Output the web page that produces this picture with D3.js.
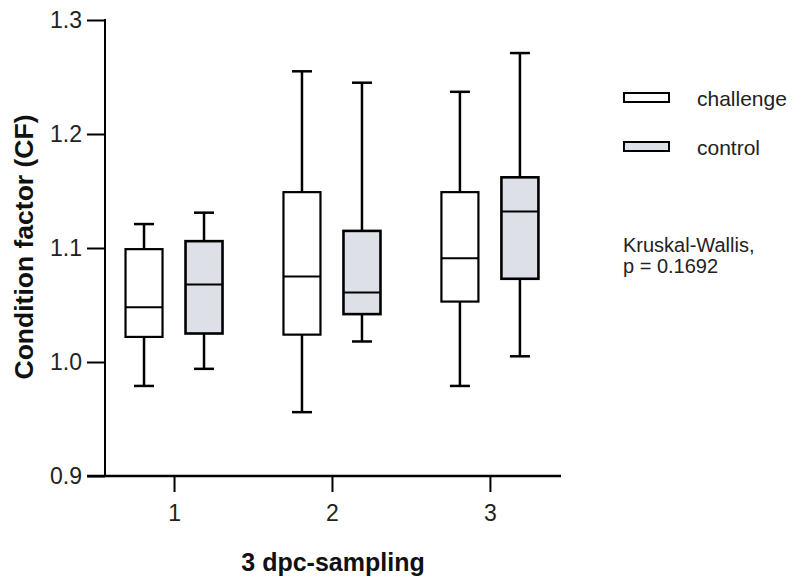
<!DOCTYPE html>
<html><head><meta charset="utf-8">
<script src="https://cdn.jsdelivr.net/npm/d3@7"></script>
<style>body{margin:0;background:#fff}svg{display:block}text{font-family:"Liberation Sans",Arial,sans-serif}</style>
</head><body><svg id="c" width="801" height="579"></svg>
<script>
const categories = [1, 2, 3];
const groups = ["challenge", "control"];
const groupFill = ["#ffffff", "#dde0e6"];
// [whiskerLow, q1, median, q3, whiskerHigh]
const challengeStats = [
  [0.979, 1.022, 1.048, 1.099, 1.121],
  [0.956, 1.024, 1.075, 1.149, 1.255],
  [0.979, 1.053, 1.091, 1.149, 1.237]
];
const controlStats = [
  [0.994, 1.025, 1.068, 1.106, 1.131],
  [1.018, 1.042, 1.061, 1.115, 1.245],
  [1.005, 1.073, 1.132, 1.162, 1.271]
];
const yTicks = [0.9, 1.0, 1.1, 1.2, 1.3];
const statText = ["Kruskal-Wallis,", "p = 0.1692"];

const svg = d3.select("#c");
const x = d3.scaleLinear().domain([0.563, 3.45]).range([105, 561]);
const y = d3.scaleLinear().domain([0.9, 1.3]).range([476, 20]);
const offsets = [-30, 30];
const boxW = 37, capW = 20;

// axes
const yAxis = d3.axisLeft(y).tickValues(yTicks).tickFormat(d3.format(".1f")).tickSize(18).tickPadding(5);
const gy = svg.append("g").attr("transform", "translate(105,0)").call(yAxis);
gy.select(".domain").attr("d", "M0,19V476").attr("stroke", "#000").attr("stroke-width", 2);
gy.selectAll(".tick line").attr("stroke", "#000").attr("stroke-width", 2);
gy.selectAll(".tick text").attr("font-size", 23).attr("fill", "#222");

const xAxis = d3.axisBottom(x).tickValues(categories).tickFormat(d3.format("d")).tickSize(16).tickPadding(13);
const gx = svg.append("g").attr("transform", "translate(0,476)").call(xAxis);
gx.select(".domain").attr("d", "M87,0H561").attr("stroke", "#000").attr("stroke-width", 2.5);
gx.selectAll(".tick line").attr("stroke", "#000").attr("stroke-width", 2);
gx.selectAll(".tick text").attr("font-size", 23).attr("fill", "#222");

// boxes
const allStats = [challengeStats, controlStats];
allStats.forEach((stats, gi) => {
  stats.forEach((s, ci) => {
    const cx = x(categories[ci]) + offsets[gi];
    const g = svg.append("g");
    const sw = gi === 1 ? 2.6 : 2.2;
    g.append("line").attr("x1", cx).attr("x2", cx).attr("y1", y(s[0])).attr("y2", y(s[1])).attr("stroke", "#000").attr("stroke-width", 2.5);
    g.append("line").attr("x1", cx).attr("x2", cx).attr("y1", y(s[3])).attr("y2", y(s[4])).attr("stroke", "#000").attr("stroke-width", 2.5);
    g.append("line").attr("x1", cx - capW / 2).attr("x2", cx + capW / 2).attr("y1", y(s[0])).attr("y2", y(s[0])).attr("stroke", "#000").attr("stroke-width", 2.5);
    g.append("line").attr("x1", cx - capW / 2).attr("x2", cx + capW / 2).attr("y1", y(s[4])).attr("y2", y(s[4])).attr("stroke", "#000").attr("stroke-width", 2.5);
    g.append("rect").attr("x", cx - boxW / 2).attr("width", boxW).attr("y", y(s[3])).attr("height", y(s[1]) - y(s[3]))
      .attr("fill", groupFill[gi]).attr("stroke", "#000").attr("stroke-width", sw);
    g.append("line").attr("x1", cx - boxW / 2).attr("x2", cx + boxW / 2).attr("y1", y(s[2])).attr("y2", y(s[2])).attr("stroke", "#000").attr("stroke-width", 2);
  });
});

// axis titles
svg.append("text").attr("transform", "translate(33,247) rotate(-90)").attr("text-anchor", "middle")
  .attr("font-size", 26.5).attr("font-weight", "bold").attr("fill", "#111").text("Condition factor (CF)");
svg.append("text").attr("x", 333).attr("y", 571).attr("text-anchor", "middle")
  .attr("font-size", 25).attr("font-weight", "bold").attr("fill", "#111").text("3 dpc-sampling");

// legend
const leg = svg.append("g");
groups.forEach((name, i) => {
  const ly = 93 + i * 49;
  leg.append("rect").attr("x", 624).attr("y", ly).attr("width", 45).attr("height", 9)
    .attr("fill", groupFill[i]).attr("stroke", "#000").attr("stroke-width", 2);
  leg.append("text").attr("x", 697).attr("y", ly + 13).attr("font-size", 21).attr("fill", "#222").text(name);
});
statText.forEach((t, i) => {
  svg.append("text").attr("x", 623).attr("y", 252 + i * 21).attr("font-size", 20).attr("fill", "#222").text(t);
});
</script></body></html>
